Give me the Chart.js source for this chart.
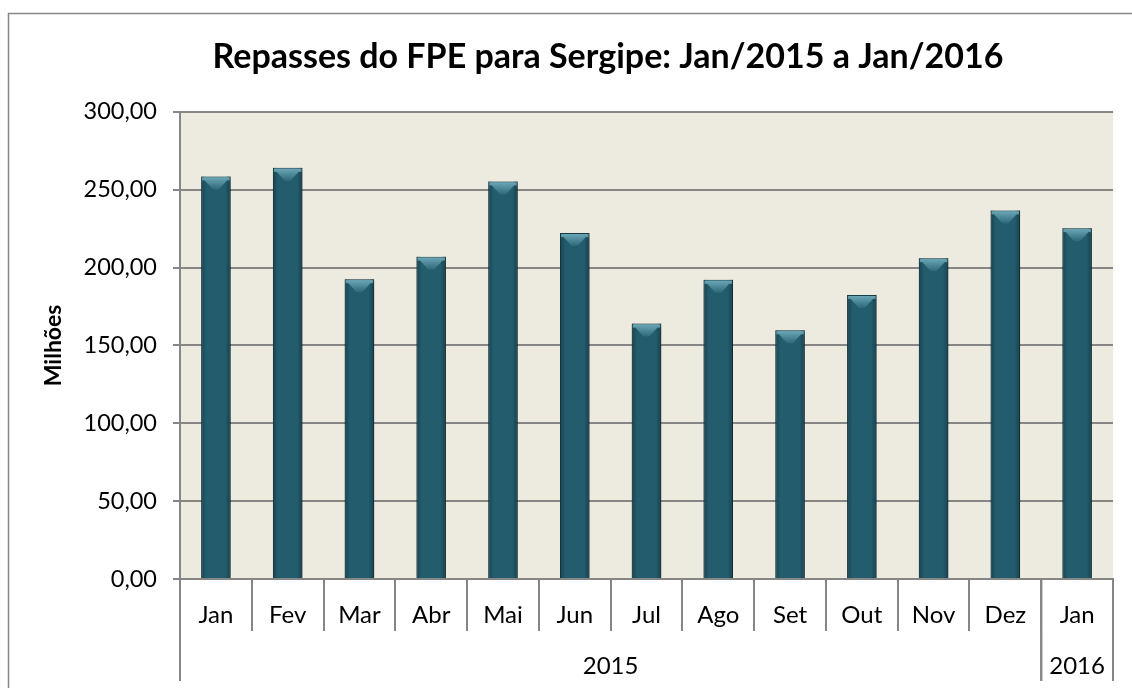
<!DOCTYPE html>
<html>
<head>
<meta charset="utf-8">
<script src="https://cdn.jsdelivr.net/npm/chart.js@4.4.1/dist/chart.umd.min.js"></script>
<style>
  html, body { margin: 0; padding: 0; background: #fff; overflow: hidden; }
  canvas { display: block; }
</style>
</head>
<body>
<canvas id="fpeChart" width="1216" height="688"></canvas>
<script>
// Dados (milhões de R$)
const meses = ["Jan", "Fev", "Mar", "Abr", "Mai", "Jun", "Jul", "Ago", "Set", "Out", "Nov", "Dez", "Jan"];
const anos = ["2015", "2015", "2015", "2015", "2015", "2015", "2015", "2015", "2015", "2015", "2015", "2015", "2016"];
const repasses = [258.5, 264.0, 192.5, 207.0, 255.3, 222.1, 164.0, 192.1, 159.7, 182.4, 206.0, 236.7, 225.3];

const FONTE = "Lato, 'Liberation Sans', sans-serif";
const CINZA = "#868686";

// Fundo, moldura e área do gráfico
const fundo = {
  id: "fundo",
  beforeDraw(chart) {
    const { ctx, chartArea: a } = chart;
    ctx.save();
    ctx.fillStyle = "#fff";
    ctx.fillRect(0, 0, chart.width, chart.height);
    ctx.strokeStyle = CINZA;
    ctx.lineWidth = 1.5;
    ctx.strokeRect(8.5, 13.5, chart.width - 17, chart.height + 20);
    ctx.fillStyle = "#EDEAE0";
    ctx.fillRect(a.left, a.top, a.right - a.left, a.bottom - a.top);
    ctx.restore();
  }
};

// Sombra e chanfro das barras
const barras3d = {
  id: "barras3d",
  beforeDatasetsDraw(chart) {
    const ctx = chart.ctx;
    ctx.save();
    ctx.shadowColor = "rgba(0,0,0,0.35)";
    ctx.shadowBlur = 4;
    ctx.shadowOffsetX = 2;
    ctx.shadowOffsetY = 1;
  },
  afterDatasetsDraw(chart) {
    const ctx = chart.ctx;
    ctx.restore();
    chart.getDatasetMeta(0).data.forEach(bar => {
      const esq = bar.x - bar.width / 2;
      const dir = bar.x + bar.width / 2;
      const topo = bar.y;
      ctx.save();
      // bordas laterais mais escuras
      const lado = ctx.createLinearGradient(esq, 0, dir, 0);
      lado.addColorStop(0, "rgba(10,40,50,0.45)");
      lado.addColorStop(0.18, "rgba(10,40,50,0)");
      lado.addColorStop(0.82, "rgba(10,40,50,0)");
      lado.addColorStop(1, "rgba(10,40,50,0.5)");
      ctx.fillStyle = lado;
      ctx.fillRect(esq, topo, bar.width, bar.base - topo);
      // faixa clara no topo
      ctx.fillStyle = "#5d98a8";
      ctx.fillRect(esq + 1, topo + 1, bar.width - 2, 3);
      // chanfro do topo
      const g = ctx.createLinearGradient(0, topo, 0, topo + 13);
      g.addColorStop(0, "#6fabbb");
      g.addColorStop(1, "#2c6878");
      ctx.fillStyle = g;
      ctx.beginPath();
      ctx.moveTo(esq + 1, topo + 1);
      ctx.lineTo(dir - 1, topo + 1);
      ctx.lineTo(bar.x + 3, topo + 13);
      ctx.lineTo(bar.x - 3, topo + 13);
      ctx.closePath();
      ctx.fill();
      ctx.restore();
    });
  }
};

// Linha dos anos abaixo dos meses
const linhaAnos = {
  id: "linhaAnos",
  afterDraw(chart) {
    const { ctx, chartArea: a, scales: { x } } = chart;
    const passo = x.getPixelForValue(1) - x.getPixelForValue(0);
    const grupos = [];
    let inicio = 0;
    for (let i = 1; i <= anos.length; i++) {
      if (i === anos.length || anos[i] !== anos[inicio]) {
        grupos.push({ ano: anos[inicio], de: inicio, ate: i - 1 });
        inicio = i;
      }
    }
    ctx.save();
    ctx.strokeStyle = CINZA;
    ctx.lineWidth = 2;
    ctx.fillStyle = "#000";
    ctx.font = "24px " + FONTE;
    ctx.textAlign = "center";
    ctx.textBaseline = "middle";
    grupos.forEach(g => {
      const esq = x.getPixelForValue(g.de) - passo / 2;
      const dir = x.getPixelForValue(g.ate) + passo / 2;
      [esq, dir].forEach(px => {
        ctx.beginPath();
        ctx.moveTo(px, a.bottom);
        ctx.lineTo(px, a.bottom + 102);
        ctx.stroke();
      });
      ctx.fillText(g.ano, (esq + dir) / 2, a.bottom + 87);
    });
    ctx.restore();
  }
};

new Chart(document.getElementById("fpeChart"), {
  type: "bar",
  data: {
    labels: meses,
    datasets: [{
      data: repasses,
      backgroundColor: "#235C6C",
      borderColor: "#173F4B",
      borderWidth: 1,
      barPercentage: 0.41,
      categoryPercentage: 1
    }]
  },
  options: {
    responsive: false,
    animation: false,
    layout: { padding: 0 },
    plugins: {
      legend: { display: false },
      tooltip: { enabled: false },
      title: {
        display: true,
        text: "Repasses do FPE para Sergipe: Jan/2015 a Jan/2016",
        color: "#000",
        font: { family: FONTE, size: 34, weight: "bold" },
        padding: { top: 37, bottom: 34 }
      }
    },
    scales: {
      x: {
        grid: { offset: true, drawOnChartArea: false, drawTicks: true, tickLength: 52, color: CINZA, lineWidth: 2 },
        border: { color: CINZA, width: 2 },
        ticks: { color: "#000", font: { family: FONTE, size: 24 }, padding: -30, autoSkip: false, maxRotation: 0 },
        afterFit(scale) { scale.height = 109; }
      },
      y: {
        min: 0,
        max: 300,
        grid: { color: CINZA, lineWidth: 2, tickLength: 7 },
        border: { color: CINZA, width: 2 },
        ticks: {
          stepSize: 50,
          color: "#000",
          font: { family: FONTE, size: 23.5 },
          padding: 16,
          callback: v => v.toFixed(2).replace(".", ",")
        },
        title: {
          display: true,
          text: "Milhões",
          color: "#000",
          font: { family: FONTE, size: 23, weight: "bold" },
          padding: { top: 40, bottom: 0 }
        },
        afterFit(scale) { scale.width = 180; }
      },
      // eixo vazio à direita só para reservar a margem (o título fica centrado na moldura)
      margem: {
        position: "right",
        min: 0,
        max: 1,
        grid: { display: false },
        border: { display: false },
        ticks: { display: false },
        afterFit(scale) { scale.width = 103; }
      }
    }
  },
  plugins: [fundo, barras3d, linhaAnos]
});
</script>
</body>
</html>
